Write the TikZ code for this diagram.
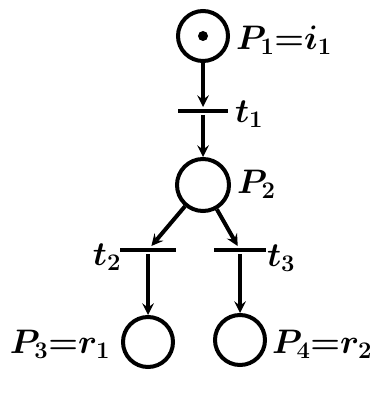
\RequirePackage{fix-cm}
\documentclass[tikz,border=0pt]{standalone}
\usepackage{amsmath}
\usepackage{amssymb}
\usepackage{tikz}
\usetikzlibrary{arrows, positioning}

\begin{document}
\begin{tikzpicture}[x=1pt, y=-1pt, line width=4pt]
        \tikzstyle{place} = [circle, draw=black, minimum size=50pt, inner sep=0pt]
        \tikzstyle{trans} = [rectangle, fill=black, minimum height=4pt, inner sep=0pt]
        \tikzstyle{lbl} = [inner sep=1pt, font=\fontsize{34}{40}\selectfont\boldmath]
        \tikzstyle{arrow} = [->, >=stealth]

        \useasboundingbox (0,0) rectangle (375,393);

        \node (p1) [place] at (203,36) {};
        \node (tok) [circle, fill=black, minimum size=10pt, inner sep=0pt] at (p1) {};
        \node (t1) [trans, minimum width=50pt] at (203,111) {};
        \node (p2) [place, minimum size=52pt] at (203,185) {};
        \node (t2) [trans, minimum width=56pt] at (148,250) {};
        \node (t3) [trans, minimum width=52pt] at (240,250) {};
        \node (p3) [place] at (148,342) {};
        \node (p4) [place] at (240,340) {};

        \node (lp1) [lbl, anchor=west] at (233,40) {$P_1{=}i_1$};
        \node (lt1) [lbl, anchor=west] at (232,114) {$t_1$};
        \node (lp2) [lbl, anchor=west] at (234,184) {$P_2$};
        \node (lt2) [lbl, anchor=east] at (124,257) {$t_2$};
        \node (lt3) [lbl, anchor=west] at (264,258) {$t_3$};
        \node (lp3) [lbl, anchor=east] at (113,344) {$P_3{=}r_1$};
        \node (lp4) [lbl, anchor=west] at (269,344) {$P_4{=}r_2$};

        \draw [arrow] (p1) -- (t1);
        \draw [arrow] (t1) -- (p2);
        \draw [arrow] (p2) -- (t2);
        \draw [arrow] (p2) -- (t3);
        \draw [arrow] (t2) -- (p3);
        \draw [arrow] (t3) -- (p4);
    \end{tikzpicture}
\end{document}
